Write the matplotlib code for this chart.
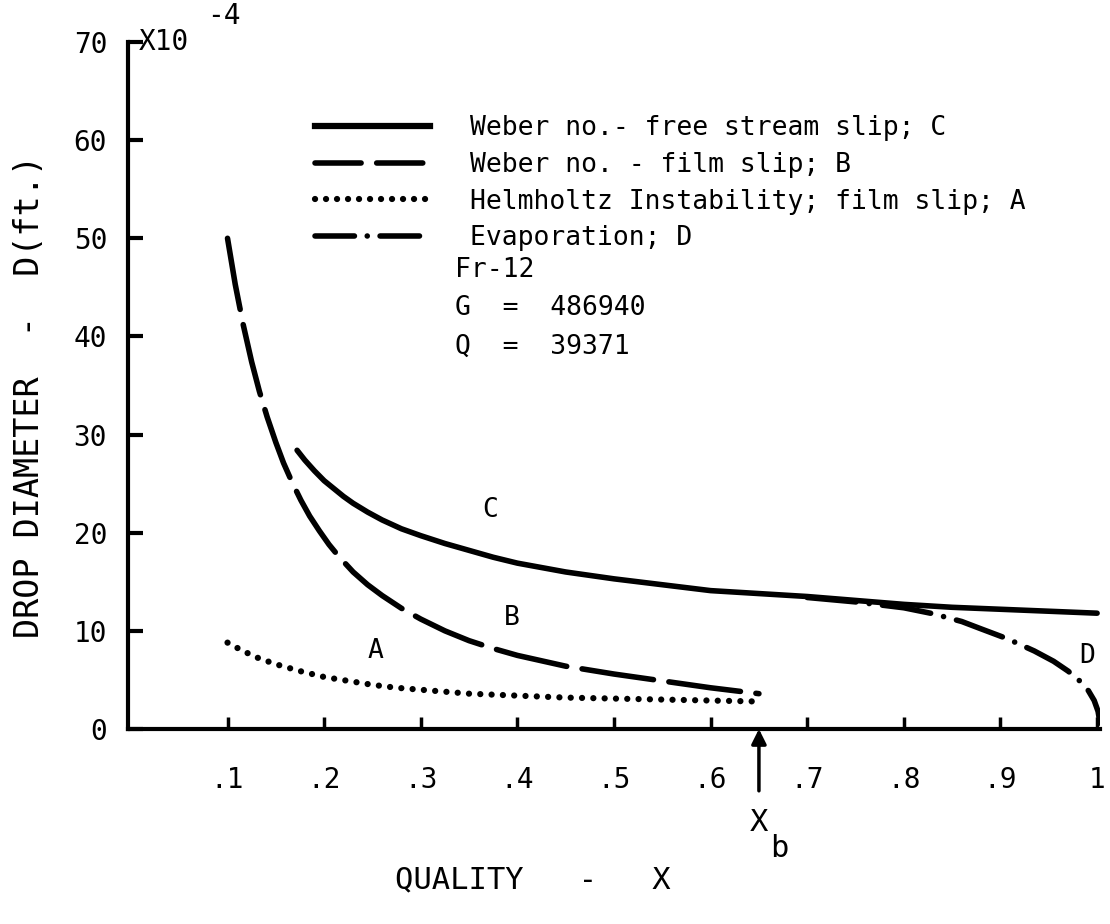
import matplotlib
matplotlib.use("Agg")
import matplotlib.pyplot as plt
from matplotlib.lines import Line2D

plt.rcParams['font.family'] = ['DejaVu Sans Mono']
plt.rcParams['mathtext.default'] = 'regular'

# curve A - Helmholtz instability, film slip
qual_a = [0.10, 0.115, 0.13, 0.15, 0.175, 0.20, 0.225, 0.25, 0.275, 0.30,
          0.35, 0.40, 0.45, 0.50, 0.55, 0.60, 0.65]
diam_a = [8.8, 8.0, 7.3, 6.6, 5.9, 5.3, 4.9, 4.5, 4.2, 4.0,
          3.6, 3.4, 3.2, 3.1, 3.0, 2.9, 2.8]

# curve B - Weber no., film slip
qual_b = [0.100, 0.108, 0.116, 0.125, 0.133, 0.141, 0.150, 0.158, 0.167, 0.176,
          0.185, 0.195, 0.205, 0.215, 0.23, 0.245, 0.26, 0.28, 0.30, 0.325,
          0.35, 0.375, 0.40, 0.45, 0.50, 0.55, 0.60, 0.65]
diam_b = [50.0, 45.3, 41.3, 37.4, 34.4, 31.8, 29.2, 27.1, 25.1, 23.3,
          21.7, 20.2, 18.8, 17.6, 16.0, 14.7, 13.6, 12.3, 11.2, 10.0,
          9.0, 8.2, 7.5, 6.4, 5.6, 4.9, 4.2, 3.6]

# curve C - Weber no., free stream slip
qual_c = [0.172, 0.18, 0.19, 0.20, 0.21, 0.22, 0.23, 0.245, 0.26, 0.28,
          0.30, 0.325, 0.35, 0.375, 0.40, 0.45, 0.50, 0.55, 0.60, 0.65,
          0.70, 0.75, 0.80, 0.85, 0.90, 0.95, 1.00]
diam_c = [28.4, 27.4, 26.3, 25.3, 24.5, 23.7, 23.0, 22.1, 21.3, 20.4,
          19.7, 18.9, 18.2, 17.5, 16.9, 16.0, 15.3, 14.7, 14.1, 13.8,
          13.5, 13.1, 12.7, 12.4, 12.2, 12.0, 11.8]

# curve D - evaporation
qual_d = [0.70, 0.75, 0.80, 0.83, 0.86, 0.88, 0.907, 0.935, 0.955, 0.97,
          0.982, 0.991, 0.997, 1.001, 1.003]
diam_d = [13.4, 12.95, 12.35, 11.75, 10.95, 10.2, 9.2, 7.95, 6.9, 5.9,
          4.9, 3.9, 2.9, 1.8, 0.6]

x_break = 0.65  # X_b

x_ticks = [0.1, 0.2, 0.3, 0.4, 0.5, 0.6, 0.7, 0.8, 0.9, 1.0]
x_tick_labels = ['.1', '.2', '.3', '.4', '.5', '.6', '.7', '.8', '.9', '1']
y_ticks = [0, 10, 20, 30, 40, 50, 60, 70]

legend_labels = ['Weber no.- free stream slip; C',
                 'Weber no. - film slip; B',
                 'Helmholtz Instability; film slip; A',
                 'Evaporation; D']

W, H = 1110, 924
fig = plt.figure(figsize=(W / 100, H / 100), dpi=100)
ax = fig.add_axes([128 / W, 1 - 729 / H, (1100 - 128) / W, (729 - 42) / H])

LW = 4
dash_b = (13, 2.8)
dash_d = (8.8, 2.4, 0.01, 2.4)
dot_a = (0.01, 1.8)

ax.plot(qual_c, diam_c, color='black', lw=LW, solid_capstyle='round', solid_joinstyle='round')
ax.plot(qual_b, diam_b, color='black', lw=LW, dashes=dash_b, dash_capstyle='round')
ax.plot(qual_a, diam_a, color='black', lw=4.5, dashes=dot_a, dash_capstyle='round')
ax.plot(qual_d, diam_d, color='black', lw=LW, dashes=dash_d, dash_capstyle='round')

ax.set_xlim(-0.003, 1.003)
ax.set_ylim(0, 70)

for side in ('top', 'right'):
    ax.spines[side].set_visible(False)
for side in ('left', 'bottom'):
    ax.spines[side].set_linewidth(3)

ax.set_xticks(x_ticks)
ax.set_xticklabels(x_tick_labels)
ax.set_yticks(y_ticks)
ax.tick_params(axis='x', direction='in', length=9, width=2.5, pad=27, labelsize=20)
ax.tick_params(axis='y', direction='in', length=11, width=3, pad=15, labelsize=20)

# curve letters
ax.text(0.253, 7.9, 'A', fontsize=19, ha='center', va='center')
ax.text(0.394, 11.3, 'B', fontsize=19, ha='center', va='center')
ax.text(0.372, 22.3, 'C', fontsize=19, ha='center', va='center')
ax.text(0.99, 7.4, 'D', fontsize=19, ha='center', va='center')

# run conditions
ax.text(0.335, 46.8, 'Fr-12', fontsize=19, va='center')
ax.text(0.335, 42.9, 'G  =  486940', fontsize=19, va='center')
ax.text(0.335, 38.9, 'Q  =  39371', fontsize=19, va='center')

# scale factor on the y axis
ax.text(0.008, 70, 'X10', fontsize=20, va='center', clip_on=False)
ax.annotate('-4', xy=(0.008, 70), xytext=(49, 19), textcoords='offset points',
            fontsize=20, va='center', annotation_clip=False)

# X_b marker below the axis
ax.annotate('', xy=(x_break, 0), xytext=(x_break, -6.3),
            arrowprops=dict(arrowstyle='-|>', color='black', lw=2.5,
                            mutation_scale=22, shrinkA=0, shrinkB=0),
            annotation_clip=False)
ax.text(x_break, -9.5, 'X', fontsize=22, ha='center', va='center', clip_on=False)
ax.annotate('b', xy=(x_break, -9.5), xytext=(15, -19), textcoords='offset points',
            fontsize=22, ha='center', va='center', annotation_clip=False)

# legend with hand-tuned sample patterns
handles = [Line2D([], [], color='black', lw=4.5),
           Line2D([], [], color='black', lw=LW, dashes=(8.3, 2.8), dash_capstyle='round'),
           Line2D([], [], color='black', lw=4.5, dashes=(0.01, 1.75), dash_capstyle='round'),
           Line2D([], [], color='black', lw=LW, dashes=(7.1, 2.3, 0.01, 2.3), dash_capstyle='round')]
ax.legend(handles, legend_labels, loc='upper left',
          bbox_to_anchor=(315 / W, 1 - 115 / H), bbox_transform=fig.transFigure,
          frameon=False, fontsize=19, handlelength=4.36, handletextpad=1.52,
          labelspacing=0.41, borderpad=0, borderaxespad=0)

fig.text(30 / W, 1 - 397 / H, 'DROP DIAMETER  -  D(ft.)', rotation=90,
         fontsize=24, ha='center', va='center')
fig.text(533 / W, 1 - 880 / H, 'QUALITY   -   X', fontsize=22, ha='center', va='center')

fig.savefig('out.png', dpi=100, facecolor='white')
